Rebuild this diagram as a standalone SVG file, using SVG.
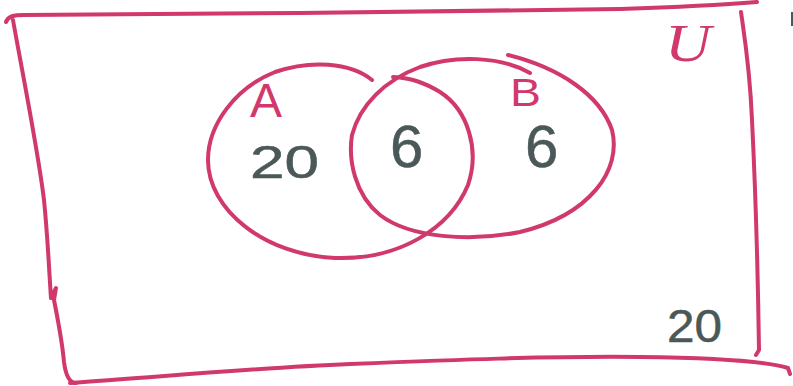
<svg xmlns="http://www.w3.org/2000/svg" width="793" height="386" viewBox="0 0 793 386">
<style>
.ink{fill:none;stroke:#d1386c;stroke-width:4;stroke-linecap:round;stroke-linejoin:round}
.lbl{fill:#d1386c;font-family:"Liberation Sans",Arial,sans-serif}
.num{fill:#4b5858;font-family:"Liberation Sans",Arial,sans-serif;stroke:#4b5858;stroke-width:0.5}
</style>
<rect width="793" height="386" fill="#ffffff"/>
<g id="universe">
<path class="ink" d="M6,22 C8,16 14,15 24,15 L300,13 L620,9 C680,7 720,5 757,2"/>
<path class="ink" d="M13,20 C20,60 38,150 44,200 C48,240 49,270 51,298 L56,288 L54,300 C58,320 62,340 64,362 C66,378 70,383 76,383"/>
<path class="ink" d="M70,383 C150,378 250,368 350,364 C450,360 550,356 640,357 C720,358 770,362 788,368 L790,374"/>
<path class="ink" d="M741,12 C745,40 750,70 752,120 C756,200 758,280 759,350 L756,355"/>
<text class="lbl" x="665" y="61" font-size="52" font-style="italic" textLength="46" lengthAdjust="spacingAndGlyphs" style="font-family:'Liberation Serif',serif">U</text>
<text class="num" x="667" y="342" font-size="46" textLength="55" lengthAdjust="spacingAndGlyphs">20</text>
</g>
<g id="setA">
<path class="ink" d="M372,80 C350,62 310,60 275,72 C235,88 208,125 208,160 C208,210 265,255 335,258 C400,260 450,228 468,185 C480,150 468,110 440,92 C425,83 412,78 393,77"/>
<text class="lbl" x="250" y="117" font-size="48">A</text>
<text class="num" x="250" y="178" font-size="46" textLength="69" lengthAdjust="spacingAndGlyphs">20</text>
</g>
<g id="setB">
<path class="ink" d="M508,55 C560,68 600,95 612,130 C622,170 590,215 520,232 C470,242 410,238 380,215 C355,195 348,160 352,135 C360,105 385,80 420,67 C455,55 500,56 530,73"/>
<text class="lbl" x="510" y="106" font-size="38" textLength="31" lengthAdjust="spacingAndGlyphs">B</text>
<text class="num" x="525" y="167" font-size="60">6</text>
</g>
<g id="intersection">
<text class="num" x="390" y="167" font-size="60">6</text>
</g>
<g id="connectors"></g>
<path d="M792,12 L792,26" stroke="#4b5858" stroke-width="2"/>
</svg>
